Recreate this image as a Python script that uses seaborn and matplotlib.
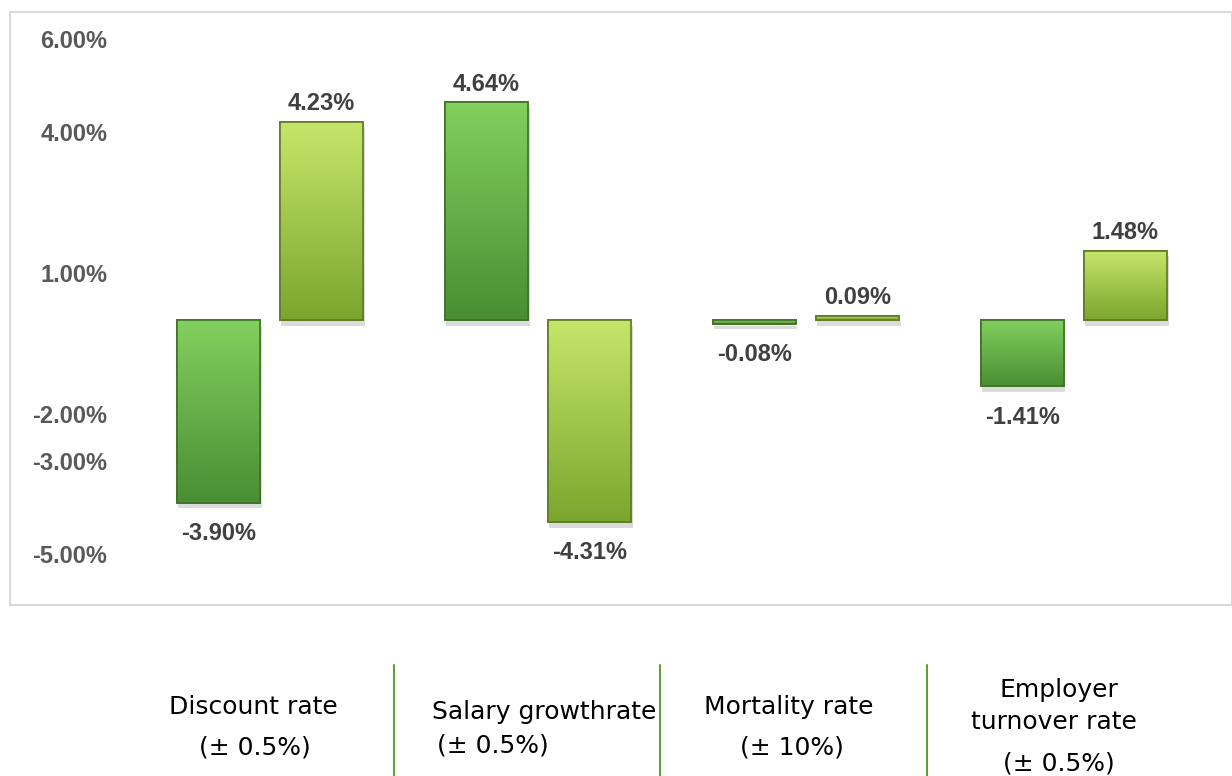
import numpy as np
import pandas as pd
import matplotlib.pyplot as plt
import matplotlib.patheffects as pe
from matplotlib.colors import LinearSegmentedColormap
from matplotlib.lines import Line2D
import seaborn as sns

sns.set_style("white")
plt.rcParams['font.family'] = ['DejaVu Sans']

# data
categories = ["Discount rate", "Salary growthrate", "Mortality rate", "Employer turnover rate"]
down_values = [-3.90, 4.64, -0.08, -1.41]
up_values = [4.23, -4.31, 0.09, 1.48]
tick_values = [6, 4, 1, -2, -3, -5]
tick_labels = ["6.00%", "4.00%", "1.00%", "-2.00%", "-3.00%", "-5.00%"]
label_lines = [["Discount rate", "(\u00b1 0.5%)"],
               ["Salary growthrate", "(\u00b1 0.5%)"],
               ["Mortality rate", "(\u00b1 10%)"],
               ["Employer", "turnover rate", "(\u00b1 0.5%)"]]

df = pd.DataFrame({
    "category": categories * 2,
    "series": ["down"] * 4 + ["up"] * 4,
    "value": down_values + up_values,
})

W, H = 1232, 776
fig = plt.figure(figsize=(W / 100, H / 100), dpi=100)
ax = fig.add_axes([10 / W, 1 - 605 / H, (W - 10) / W, (605 - 12) / H])

sns.barplot(data=df, x="category", y="value", hue="series", order=categories,
            hue_order=["down", "up"], palette=["#66B045", "#A3C94A"],
            width=0.77, gap=0.19, legend=False, ax=ax)

ax.set_xlim(-0.97, 3.59)
ax.set_ylim(-6.08, 6.57)

# gradient fill for every bar
grads = [LinearSegmentedColormap.from_list("d", ["#4A8E34", "#82D05E"]),
         LinearSegmentedColormap.from_list("u", ["#7BA62E", "#C6E66A"])]
edges = ["#426F2A", "#5E7A25"]
n = len(categories)
for i, bar in enumerate(ax.patches[:2 * n]):
    s = i // n
    x0, y0 = bar.get_x(), bar.get_y()
    w, h = bar.get_width(), bar.get_height()
    ylo, yhi = min(y0, y0 + h), max(y0, y0 + h)
    bar.set_edgecolor(edges[s])
    bar.set_linewidth(1.2)
    bar.set_path_effects([pe.SimplePatchShadow(offset=(1, -4), shadow_rgbFace="#8A8A8A", alpha=0.3),
                          pe.Normal()])
    img = ax.imshow(np.linspace(0, 1, 100).reshape(-1, 1), cmap=grads[s], origin="lower",
                    extent=[x0, x0 + w, ylo, yhi], aspect="auto", zorder=bar.get_zorder() + 0.1)
    img.set_clip_path(bar)
    edge = plt.Rectangle((x0, ylo), w, yhi - ylo, fill=False, edgecolor=edges[s],
                         linewidth=1.2, zorder=bar.get_zorder() + 0.2)
    ax.add_patch(edge)

# value labels (negative ones sit a little further from the bar)
for cont in ax.containers:
    vals = cont.datavalues
    ax.bar_label(cont, labels=[f"{v:.2f}%" if v >= 0 else "" for v in vals], padding=5,
                 fontsize=17, fontweight="bold", color="#404040", family="Liberation Sans")
    ax.bar_label(cont, labels=[f"{v:.2f}%" if v < 0 else "" for v in vals], padding=14,
                 fontsize=17, fontweight="bold", color="#404040", family="Liberation Sans")

# y ticks drawn inside the frame
ax.set_yticks(tick_values)
ax.set_yticklabels(tick_labels)
ax.tick_params(axis="y", length=0, pad=-70, labelsize=17, labelcolor="#595959")
for t in ax.get_yticklabels():
    t.set_fontweight("bold")
    t.set_family("Liberation Sans")
ax.set_xticks([])
ax.set_xlabel("")
ax.set_ylabel("")
for sp in ax.spines.values():
    sp.set_visible(True)
    sp.set_color("#D9D9D9")
    sp.set_linewidth(1.5)

# category labels below the chart
label_pos = [[(253, 707), (255, 748)],
             [(544, 712), (493, 745)],
             [(789, 707), (792, 748)],
             [(1059, 690), (1054, 722), (1059, 763)]]
for lines, pos in zip(label_lines, label_pos):
    for txt, (px, py) in zip(lines, pos):
        fig.text(px / W, 1 - py / H, txt, ha="center", va="center", fontsize=18, color="black")

for sx in [394, 660, 927]:
    fig.add_artist(Line2D([sx / W, sx / W], [0, 1 - 665 / H], color="#5DA13B", linewidth=1.5))

fig.savefig("out.png", dpi=100)
